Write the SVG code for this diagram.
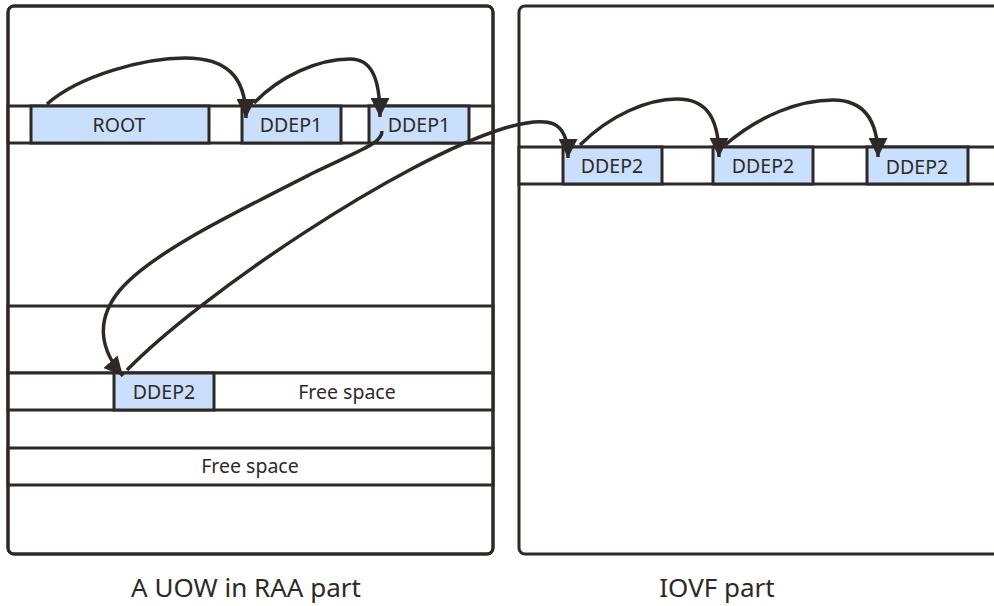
<svg xmlns="http://www.w3.org/2000/svg" width="994" height="606" viewBox="0 0 994 606">
<style>
.panel{fill:#fff;stroke:#2e2926;stroke-width:3}
.cell{fill:#c9dffb;stroke:#2e2926;stroke-width:3}
.wcell{fill:#fff;stroke:#2e2926;stroke-width:3}
.t{font-family:"Noto Sans","Liberation Sans",sans-serif;font-size:19.5px;fill:#2e2926;text-anchor:middle}
.lbl{font-family:"Noto Sans","Liberation Sans",sans-serif;font-size:26px;fill:#2e2926;text-anchor:middle}
.conn{fill:none;stroke:#2e2926;stroke-width:3.5}
</style>
<defs>
<marker id="arr" viewBox="0 0 10 10" refX="10" refY="5" markerWidth="19" markerHeight="19" markerUnits="userSpaceOnUse" orient="auto">
<path d="M0,0 L10,5 L0,10 z" fill="#2e2926"/>
</marker>
</defs>
<rect width="994" height="606" fill="#fff"/>

<g id="raa-panel">
<rect class="panel" x="8" y="6" width="485" height="548" rx="6"/>
<rect class="wcell" x="8" y="106" width="485" height="37"/>
<rect class="wcell" x="8" y="306" width="485" height="67"/>
<rect class="wcell" x="8" y="373" width="485" height="37"/>
<rect class="wcell" x="8" y="448" width="485" height="37"/>
<rect class="panel" x="8" y="6" width="485" height="548" rx="6" style="fill:none"/>
</g>

<g id="root"><rect class="cell" x="31" y="106" width="178" height="37"/><text class="t" x="119" y="131.5">ROOT</text></g>
<g id="ddep1-a"><rect class="cell" x="242" y="106" width="99" height="37"/><text class="t" x="291" y="131.5">DDEP1</text></g>
<g id="ddep1-b"><rect class="cell" x="369" y="106" width="100" height="37"/><text class="t" x="419" y="131.5">DDEP1</text></g>
<g id="ddep2-raa"><rect class="cell" x="114" y="373" width="100" height="37"/><text class="t" x="164" y="398.5">DDEP2</text></g>
<g id="free1"><text class="t" x="347" y="398.5">Free space</text></g>
<g id="free2"><text class="t" x="250" y="472.5">Free space</text></g>

<g id="iovf-panel">
<rect class="panel" x="519" y="6" width="520" height="548" rx="6"/>
<rect class="wcell" x="519" y="147" width="520" height="37"/>
</g>
<g id="ddep2-a"><rect class="cell" x="563" y="147" width="99" height="37"/><text class="t" x="612" y="172.5">DDEP2</text></g>
<g id="ddep2-b"><rect class="cell" x="713" y="147" width="100" height="37"/><text class="t" x="763" y="172.5">DDEP2</text></g>
<g id="ddep2-c"><rect class="cell" x="867" y="147" width="101" height="37"/><text class="t" x="917" y="173.5">DDEP2</text></g>

<g id="connectors">
<path class="conn" marker-end="url(#arr)" d="M47,104 C80,75 145,58 185,58 C225,58 246,75 246,118"/>
<path class="conn" marker-end="url(#arr)" d="M254,103 C280,76 318,59 350,59 C370,59 380,75 380,117"/>
<path class="conn" marker-end="url(#arr)" d="M382,131 C382,143 365,148 313,173 C220,220 150,255 120,290 C95,320 100,350 123,376"/>
<path class="conn" marker-end="url(#arr)" d="M127,370 C200,295 400,160 505,128 C550,115 568,120 568,158"/>
<path class="conn" marker-end="url(#arr)" d="M580,145 C610,115 648,99 677,99 C702,99 719,112 719,157"/>
<path class="conn" marker-end="url(#arr)" d="M725,145 C760,115 800,100 833,100 C860,100 878,115 878,157"/>
</g>

<g id="labels">
<text class="lbl" x="246" y="597">A UOW in RAA part</text>
<text class="lbl" x="717" y="597">IOVF part</text>
</g>
</svg>
